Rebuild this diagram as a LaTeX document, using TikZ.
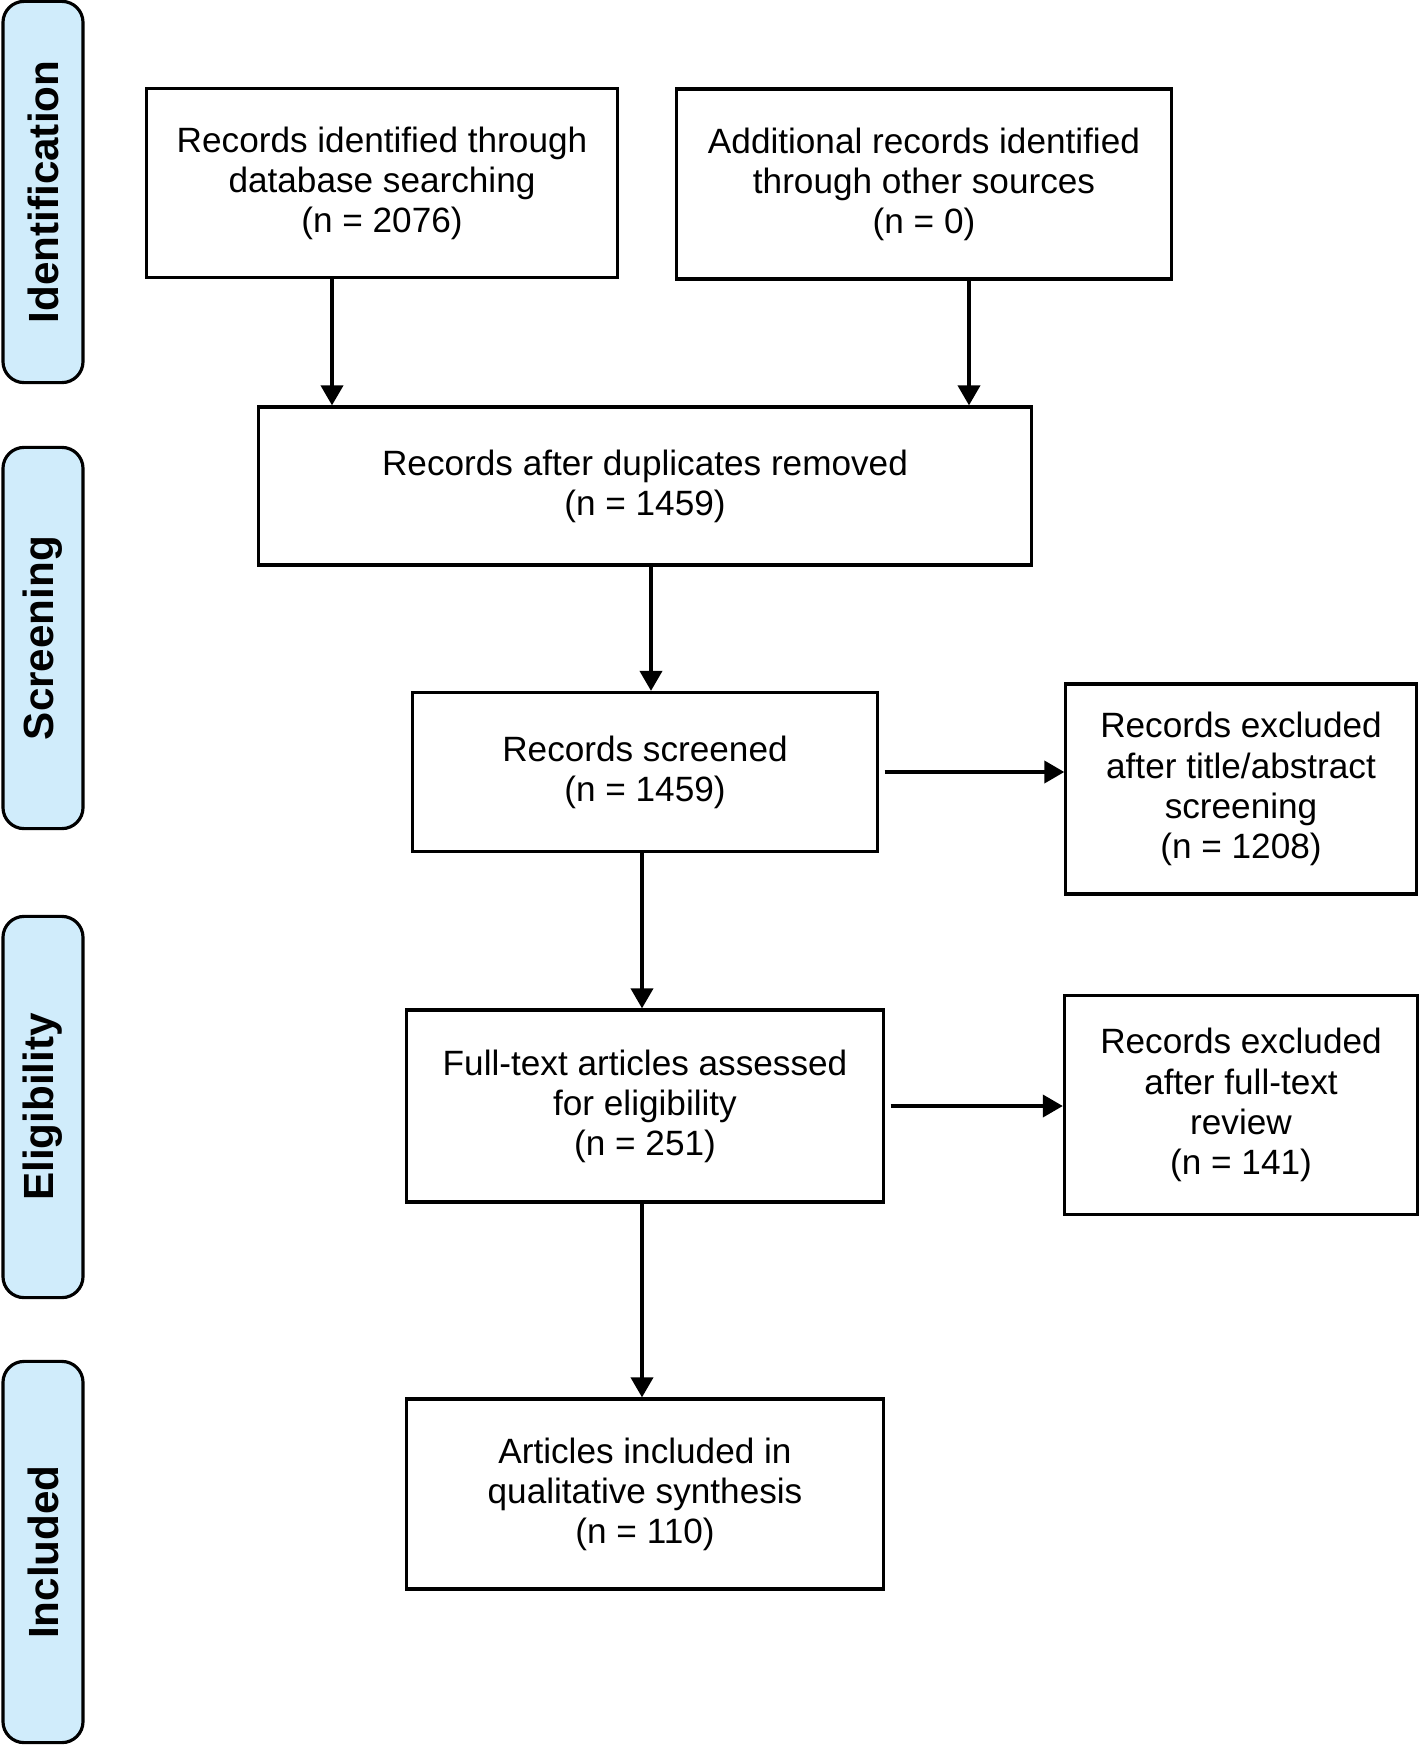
\documentclass[tikz,border=0pt]{standalone}
\usepackage{fontspec}
\setmainfont{Liberation Sans}
\usetikzlibrary{arrows.meta}
\definecolor{phaseblue}{RGB}{208,236,251}

\begin{document}
\begin{tikzpicture}[x=0.01cm, y=-0.01cm, font=\fontsize{10}{11.4}\selectfont,
        box/.style={draw, line width=0.9pt, align=center, inner sep=0pt},
        phase/.style={draw, line width=0.9pt, rounded corners=6pt, fill=phaseblue,
            rotate=90, minimum height=0.8cm, minimum width=3.81cm,
            font=\bfseries\fontsize{12}{14}\selectfont},
        arr/.style={-{Triangle[length=2mm,width=2.2mm]}, line width=1.1pt}]
        \useasboundingbox (0,0) rectangle (1420,1745);

        % phases on the left
        \node[phase] (ident) at (43,192) {Identification};
        \node[phase] (screen) at (43,638) {Screening};
        \node[phase] (elig) at (43,1107) {Eligibility};
        \node[phase] (incl) at (43,1552) {Included};

        % boxes
        \node[box, minimum width=4.71cm, minimum height=1.89cm] (recdb) at (382,183)
            {Records identified through\\database searching\\(n = 2076)};
        \node[box, minimum width=4.94cm, minimum height=1.90cm] (recother) at (924,184)
            {Additional records identified\\through other sources\\(n = 0)};
        \node[box, minimum width=7.72cm, minimum height=1.58cm] (dedup) at (645,486)
            {Records after duplicates removed\\(n = 1459)};
        \node[box, minimum width=4.65cm, minimum height=1.59cm] (screened) at (645,772)
            {Records screened\\(n = 1459)};
        \node[box, minimum width=3.50cm, minimum height=2.10cm] (exclscreen) at (1241,789)
            {Records excluded\\after title/abstract\\screening\\(n = 1208)};
        \node[box, minimum width=4.77cm, minimum height=1.92cm] (fulltext) at (645,1106)
            {Full-text articles assessed\\for eligibility\\(n = 251)};
        \node[box, minimum width=3.53cm, minimum height=2.19cm] (exclfull) at (1241,1105)
            {Records excluded\\after full-text\\review\\(n = 141)};
        \node[box, minimum width=4.77cm, minimum height=1.90cm] (included) at (645,1494)
            {Articles included in\\qualitative synthesis\\(n = 110)};

        % connectors
        \coordinate (xdb) at (332,0);
        \coordinate (xother) at (969,0);
        \coordinate (xdedup) at (651,0);
        \coordinate (xscr) at (642,0);
        \draw[arr] (recdb.south -| xdb) -- (dedup.north -| xdb);
        \draw[arr] (recother.south -| xother) -- (dedup.north -| xother);
        \draw[arr] (dedup.south -| xdedup) -- (screened.north -| xdedup);
        \draw[arr] (screened.south -| xscr) -- (fulltext.north -| xscr);
        \draw[arr] (fulltext.south -| xscr) -- (included.north -| xscr);
        \draw[arr, shorten <=1.5pt] (screened.east) -- (exclscreen.west |- screened.east);
        \draw[arr, shorten <=1.5pt] (fulltext.east) -- (exclfull.west |- fulltext.east);
    \end{tikzpicture}
\end{document}
